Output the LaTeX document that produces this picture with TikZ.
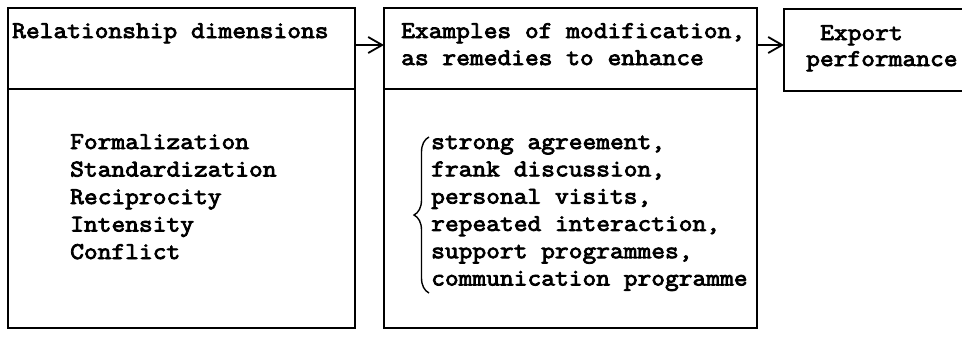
\documentclass[tikz,border=0pt]{standalone}
\usepackage{fontspec}
% typewriter face, slightly widened and thickened
\newfontfamily\typer{Latin Modern Mono}[FakeBold=3.4, FakeStretch=1.113]
\usetikzlibrary{arrows.meta,decorations.pathreplacing}
\begin{document}
\begin{tikzpicture}[x=1pt,y=-1pt,
  frame/.style={draw, line width=1.8pt, inner sep=0pt, outer sep=0pt, anchor=north west},
  rule/.style={line width=1.6pt},
  txt/.style={font=\fontsize{24}{27.5}\selectfont\typer, anchor=base west, inner sep=0pt},
  link/.style={-{Straight Barb[length=14pt,width=16pt,line width=1.8pt]}, line width=1.8pt}]
\useasboundingbox (0,0) rectangle (962,338);

% the three boxes
\node[frame, minimum width=347pt, minimum height=320pt] (dim) at (8,8) {};
\node[frame, minimum width=373pt, minimum height=320pt] (mod) at (384,8) {};
\node[frame, minimum width=200pt, minimum height=82pt] (exp) at (784,9) {};

% header dividers
\draw[rule] ([yshift=-81pt]dim.north west) -- ([yshift=-81pt]dim.north east);
\draw[rule] ([yshift=-81pt]mod.north west) -- ([yshift=-81pt]mod.north east);

% connectors
\draw[link] ([yshift=-37pt]dim.north east) -- ([yshift=-37pt]mod.north west);
\draw[link] ([yshift=-37pt]mod.north east) -- ([yshift=-36pt]exp.north west);

% headers
\node[txt] (h1) at (12,38) {Relationship dimensions};
\node[txt] (h2a) at (401,38) {Examples of modification,};
\node[txt] (h2b) at (401,65) {as remedies to enhance};
\node[txt] (h3a) at (820,40) {Export};
\node[txt] (h3b) at (806,66) {performance};

% relationship dimensions
\foreach \t [count=\i from 0] in {Formalization,Standardization,Reciprocity,Intensity,Conflict}
  \node[txt] (d\i) at (70,149+27.5*\i) {\t};

% remedies
\foreach \t [count=\i from 0] in {strong agreement{,},frank discussion{,},personal visits{,},repeated interaction{,},support programmes{,},communication programme}
  \node[txt] (r\i) at (431,149+27.3*\i) {\t};

% brace grouping the remedies
\draw[line width=1.4pt, decorate, decoration={brace, amplitude=15pt, aspect=0.5}]
  (429,293) -- (429,137);
\end{tikzpicture}
\end{document}
